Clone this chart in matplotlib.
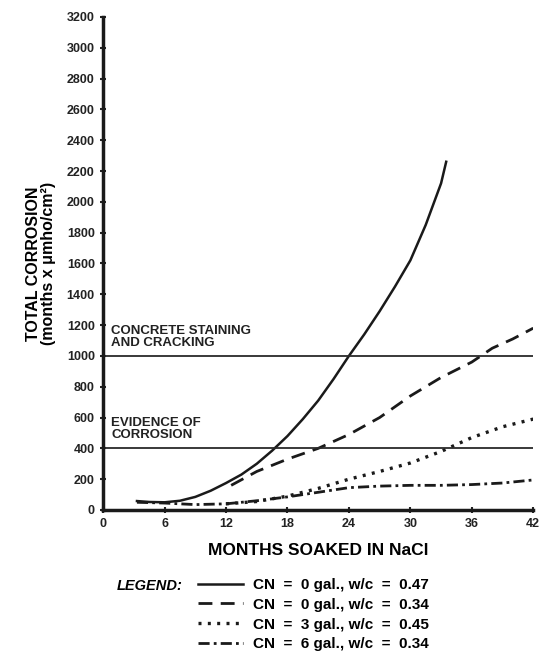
import matplotlib
matplotlib.use("Agg")
import matplotlib.pyplot as plt

plt.rcParams['font.family'] = ['Liberation Sans', 'DejaVu Sans']
plt.rcParams['font.weight'] = 'bold'

# curves (months, total corrosion)
x_cn0_47 = [3.3, 4.5, 6, 7.5, 9, 10.5, 12, 13.5, 15, 16.5, 18, 19.5, 21,
            22.5, 24, 25.5, 27, 28.5, 30, 31.5, 33, 33.5]
y_cn0_47 = [58, 52, 50, 60, 85, 125, 175, 230, 300, 385, 480, 590, 710,
            850, 1000, 1140, 1290, 1450, 1620, 1850, 2120, 2260]

x_cn0_34 = [12.5, 15, 18, 21, 24, 27, 30, 33, 36, 38, 40, 42]
y_cn0_34 = [160, 250, 330, 400, 490, 600, 740, 860, 960, 1050, 1110, 1180]

x_cn3_45 = [12, 15, 18, 21, 24, 27, 30, 33, 36, 39, 42]
y_cn3_45 = [40, 55, 90, 140, 200, 250, 305, 380, 470, 540, 590]

x_cn6_34 = [3.3, 6, 9, 12, 15, 18, 21, 24, 27, 30, 33, 36, 39, 42]
y_cn6_34 = [50, 45, 35, 40, 60, 85, 115, 145, 155, 160, 160, 165, 175, 195]

labels = ['CN  =  0 gal., w/c  =  0.47',
          'CN  =  0 gal., w/c  =  0.34',
          'CN  =  3 gal., w/c  =  0.45',
          'CN  =  6 gal., w/c  =  0.34']

thresholds = [1000, 400]
threshold_text = ['CONCRETE STAINING\nAND CRACKING', 'EVIDENCE OF\nCORROSION']

fig = plt.figure(figsize=(5.43, 6.51), dpi=100)
ax = fig.add_axes([0.19, 0.2166, 0.792, 0.7574])

h1, = ax.plot(x_cn0_47, y_cn0_47, color='#1a1a1a', lw=1.8, ls='-')
h2, = ax.plot(x_cn0_34, y_cn0_34, color='#1a1a1a', lw=2.0, ls=(0, (5, 3)))
h3, = ax.plot(x_cn3_45, y_cn3_45, color='#1a1a1a', lw=2.4, ls=(0, (0.9, 1.9)))
h4, = ax.plot(x_cn6_34, y_cn6_34, color='#1a1a1a', lw=2.0, ls=(0, (4, 1.5, 1, 1.5)))

for yv, txt in zip(thresholds, threshold_text):
    ax.axhline(yv, xmin=0, xmax=1, color='#2a2a2a', lw=1.3)
    ax.text(0.8, yv + 45, txt, fontsize=9.5, fontweight='bold',
            color='#222222', va='bottom', ha='left', linespacing=1.0)

ax.set_xlim(0, 42)
ax.set_ylim(0, 3200)
ax.set_xticks(range(0, 43, 6))
ax.set_yticks(range(0, 3201, 200))
ax.tick_params(axis='both', labelsize=9, width=1.5, length=4,
               direction='inout', colors='#222222', pad=4)
for s in ['top', 'right']:
    ax.spines[s].set_visible(False)
for s in ['left', 'bottom']:
    ax.spines[s].set_linewidth(2.5)
    ax.spines[s].set_color('#1a1a1a')

ax.set_xlabel('MONTHS SOAKED IN NaCl', fontsize=12.5, fontweight='bold', labelpad=9)
ax.set_ylabel('TOTAL CORROSION\n(months x \u03bcmho/cm\u00b2)', fontsize=11.5,
              fontweight='bold', labelpad=8, linespacing=0.95)

fig.text(117 / 543, 1 - 586 / 651, 'LEGEND:', fontsize=10.5, fontweight='bold',
         style='italic', ha='left', va='center')
fig.legend([h1, h2, h3, h4], labels, loc='upper left',
           bbox_to_anchor=(198 / 543, 1 - 578 / 651), frameon=False,
           fontsize=11, handlelength=2.95, handletextpad=0.65,
           labelspacing=0.38, borderpad=0, borderaxespad=0)

fig.savefig('out.png', dpi=100)
